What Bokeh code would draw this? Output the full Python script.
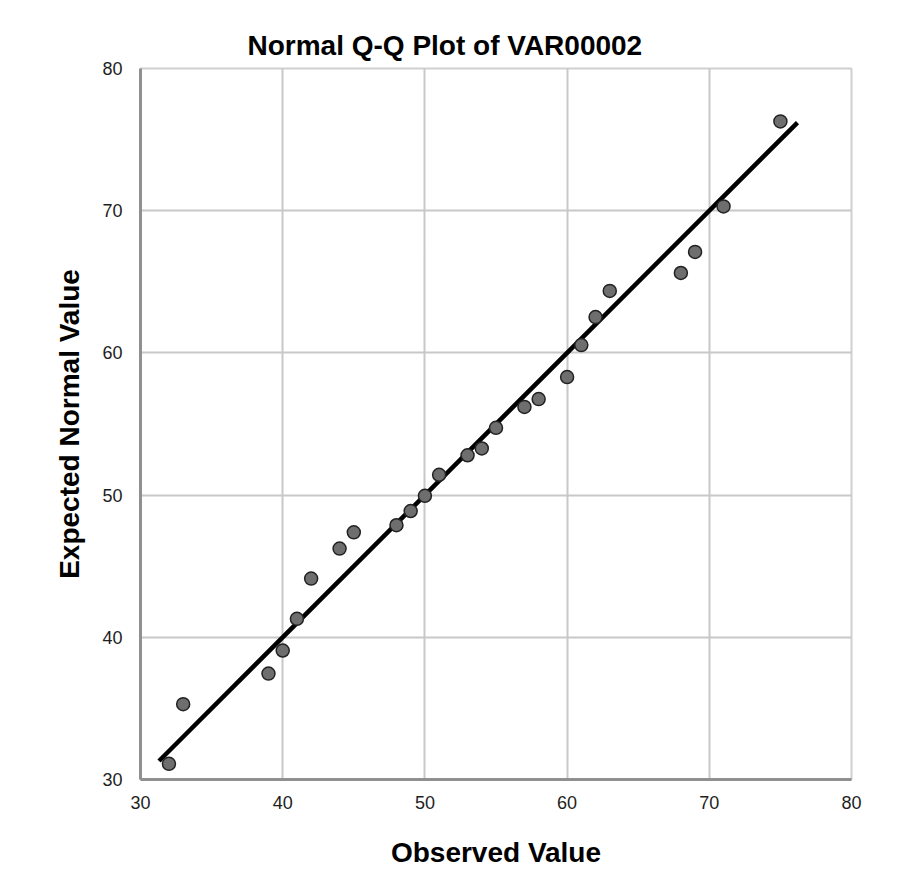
from bokeh.plotting import figure
from bokeh.models import FixedTicker, Range1d, Title
from bokeh.embed import file_html
from bokeh.resources import INLINE

# Data
observed = [32, 33, 39, 40, 41, 42, 44, 45, 48, 49, 50, 51, 53, 54, 55,
            57, 58, 60, 61, 62, 63, 68, 69, 71, 75]
expected = [31.1, 35.3, 37.45, 39.07, 41.3, 44.13, 46.24, 47.38, 47.88, 48.88,
            49.95, 51.43, 52.8, 53.28, 54.73, 56.2, 56.75, 58.3, 60.55, 62.52,
            64.36, 65.62, 67.1, 70.3, 76.28]
line_ends = [31.3, 76.2]
ticks = [30, 40, 50, 60, 70, 80]

title_text = "Normal Q-Q Plot of VAR00002"
x_label = "Observed Value"
y_label = "Expected Normal Value"

FONT = "Liberation Sans"

p = figure(width=901, height=885, output_backend="svg", toolbar_location=None,
           x_range=Range1d(30, 80), y_range=Range1d(30, 80),
           min_border_left=140, min_border_right=50,
           min_border_top=68, min_border_bottom=106)
p.title = Title(text=title_text, align="left", offset=107, standoff=16,
                text_font=FONT, text_font_size="28px", text_font_style="bold",
                text_color="#000000")
p.background_fill_color = "white"
p.border_fill_color = "white"
p.outline_line_color = "#cfcfcf"
p.outline_line_width = 2

for ax in (p.xaxis, p.yaxis):
    ax.ticker = FixedTicker(ticks=ticks)
    ax.major_tick_line_color = None
    ax.minor_tick_line_color = None
    ax.axis_line_color = "#909090"
    ax.axis_line_width = 3
    ax.major_label_text_font = FONT
    ax.major_label_text_font_size = "18px"
    ax.major_label_text_color = "#1e1e1e"
    ax.axis_label_text_font = FONT
    ax.axis_label_text_font_size = "28px"
    ax.axis_label_text_font_style = "bold"
    ax.axis_label_text_color = "#000000"

p.xaxis.axis_label = x_label
p.yaxis.axis_label = y_label
p.xaxis.major_label_standoff = 10
p.yaxis.major_label_standoff = 12
p.xaxis.axis_label_standoff = 25
p.yaxis.axis_label_standoff = 14

p.grid.ticker = FixedTicker(ticks=ticks)
p.grid.grid_line_color = "#c8c8c8"
p.grid.grid_line_width = 2

p.line(line_ends, line_ends, line_color="black", line_width=4.5)
p.scatter(observed, expected, size=13, fill_color="#6e6e6e",
          line_color="#222222", line_width=1.5)

open("out.html", "w").write(file_html(p, INLINE))
